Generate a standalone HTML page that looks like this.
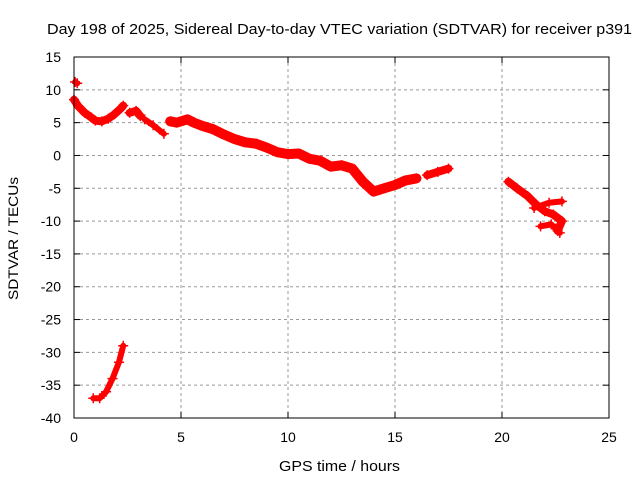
<!DOCTYPE html>
<html><head><meta charset="utf-8"><style>
body{margin:0;background:#fff}
svg{display:block;font-family:"Liberation Sans",sans-serif}
</style></head><body>
<svg id="c" width="640" height="480">
<rect width="640" height="480" fill="#fff"/>
<text x="47" y="34" font-size="15" textLength="585" lengthAdjust="spacingAndGlyphs">Day 198 of 2025, Sidereal Day-to-day VTEC variation (SDTVAR) for receiver p391</text>
<text x="279" y="471" font-size="15" textLength="121" lengthAdjust="spacingAndGlyphs">GPS time / hours</text>
<text transform="translate(18,300) rotate(-90)" font-size="14" textLength="123" lengthAdjust="spacingAndGlyphs">SDTVAR / TECUs</text>
<g id="grid"></g><g id="data"></g>
<rect x="74" y="57" width="535" height="361" fill="none" stroke="#000" stroke-width="1"/>
</svg>
<script>
const xTicks=[0,5,10,15,20,25];
const yTicks=[15,10,5,0,-5,-10,-15,-20,-25,-30,-35,-40];
const segA=[[0.05,11.2],[0.15,11.0]];
const segB=[[0,8.5],[0.2,7.5],[0.5,6.5],[0.8,5.8],[1.0,5.3],[1.3,5.2],[1.6,5.6],[1.9,6.3],[2.2,7.2],[2.3,7.6]];
const segC=[[2.6,6.5],[2.9,6.8],[3.1,6.0]];
const segD=[[3.3,5.5],[3.7,4.6],[4.2,3.3]];
const segE=[[4.5,5.2],[4.8,5.0],[5.3,5.5],[5.6,5.0],[6.0,4.5],[6.5,4.0],[7.0,3.2],[7.5,2.5],[8.0,2.0],[8.5,1.8],[9.0,1.2],[9.5,0.5],[10.0,0.2],[10.5,0.3],[11.0,-0.5],[11.5,-0.8],[12.0,-1.7],[12.5,-1.5],[13.0,-2.0],[13.5,-4.0],[14.0,-5.5],[14.5,-5.0],[15.0,-4.5],[15.5,-3.8],[16.0,-3.5]];
const segF=[[16.5,-3.0],[17.0,-2.5],[17.5,-2.0]];
const segG=[[20.3,-4.0],[20.7,-5.0],[21.2,-6.2],[21.6,-7.5],[22.0,-8.5],[22.4,-9.0],[22.8,-10.0],[22.6,-11.5]];
const segG2=[[21.5,-8.0],[22.2,-7.2],[22.8,-7.0]];
const segG3=[[21.8,-10.8],[22.3,-10.5],[22.7,-11.8]];
const segH=[[0.9,-37.0],[1.2,-37.0],[1.5,-36.0],[1.8,-34.0],[2.1,-31.5],[2.3,-29.0]];
const series=[segA,segB,segC,segD,segE,segF,segG,segG2,segG3,segH];
const widths=[6,8,8,6,10,8,8,6,6,6];
const X0=74,X1=609,Y0=57,Y1=418;
const sx=v=>X0+(v-0)/(25-0)*(X1-X0);
const sy=v=>Y0+(15-v)/(15+40)*(Y1-Y0);
const NS="http://www.w3.org/2000/svg";
const grid=document.getElementById('grid'),data=document.getElementById('data');
function mk(t,a,p){const e=document.createElementNS(NS,t);for(const k in a)e.setAttribute(k,a[k]);p.appendChild(e);return e;}
xTicks.forEach(v=>{const x=sx(v);
 if(v>0&&v<25){const l=mk('line',{x1:x,x2:x,y1:Y0,y2:Y1,stroke:'#999','stroke-dasharray':'3,3'},grid);
 
 }
 mk('line',{x1:x,x2:x,y1:Y1,y2:Y1-6,stroke:'#000'},grid);
 mk('line',{x1:x,x2:x,y1:Y0,y2:Y0+6,stroke:'#000'},grid);
 const t=mk('text',{x:x,y:Y1+24,'font-size':14,'text-anchor':'middle'},grid);t.textContent=v;
 
 
});
yTicks.forEach(v=>{const y=sy(v);
 if(v<15&&v>-40){const l=mk('line',{x1:X0,x2:X1,y1:y,y2:y,stroke:'#999','stroke-dasharray':'3,3'},grid);
 
 }
 mk('line',{x1:X0,x2:X0+6,y1:y,y2:y,stroke:'#000'},grid);
 mk('line',{x1:X1,x2:X1-6,y1:y,y2:y,stroke:'#000'},grid);
 const t=mk('text',{x:X0-13,y:y+5,'font-size':14,'text-anchor':'end'},grid);t.textContent=v;
 
 
});
series.forEach((s,i)=>{
 const pl=mk('polyline',{points:s.map(p=>sx(p[0])+','+sy(p[1])).join(' '),fill:'none',stroke:'#f00','stroke-width':widths[i],'stroke-linejoin':'round','stroke-linecap':'round'},data);
 
 
 s.forEach(p=>{const x=sx(p[0]),y=sy(p[1]);
  const m=mk('path',{d:`M${x-5},${y}h10M${x},${y-5}v10`,stroke:'#f00','stroke-width':1.5},data);
  
  
 });
});
</script>
</body></html>
